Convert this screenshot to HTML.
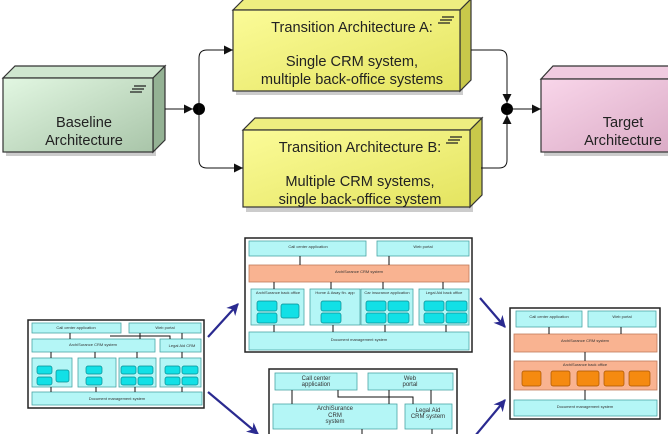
<!DOCTYPE html>
<html><head><meta charset="utf-8"><style>
html,body{margin:0;padding:0;background:#fff;}
svg{display:block;font-family:"Liberation Sans",sans-serif;}
.c{fill:#b4f6f6;stroke:#4aa6a6;stroke-width:.8}
.o{fill:#f9b391;stroke:#c07a5a;stroke-width:.8}
.i{fill:#12e0e6;stroke:#0a8a90;stroke-width:.7}
.io{fill:#f58a10;stroke:#a85400;stroke-width:.7}
.f{fill:#fff;stroke:#222;stroke-width:1.5}
.l{stroke:#111;stroke-width:1;fill:none}
.t{font-size:4px;fill:#333;text-anchor:middle}
.big{font-size:14.6px;fill:#222;text-anchor:middle}
</style></head><body>
<svg width="668" height="434" viewBox="0 0 668 434" xmlns="http://www.w3.org/2000/svg">
<defs>
<linearGradient id="gg" x1="0" y1="0" x2="1" y2="1"><stop offset="0" stop-color="#e2f7e2"/><stop offset="1" stop-color="#a9c5a9"/></linearGradient>
<linearGradient id="gy" x1="0" y1="0" x2="1" y2="1"><stop offset="0" stop-color="#fbfb98"/><stop offset="1" stop-color="#e4e460"/></linearGradient>
<linearGradient id="gp" x1="0" y1="0" x2="1" y2="1"><stop offset="0" stop-color="#f9d6ea"/><stop offset="1" stop-color="#d9a9c4"/></linearGradient>
<marker id="ah" viewBox="0 0 10 10" refX="10" refY="5" markerWidth="9" markerHeight="9" markerUnits="userSpaceOnUse" orient="auto"><path d="M0,0 L10,5 L0,10z" fill="#111"/></marker>
<marker id="bh" viewBox="0 0 10 10" refX="9" refY="5" markerWidth="12" markerHeight="12" markerUnits="userSpaceOnUse" orient="auto"><path d="M0,0 L10,5 L0,10 L3,5z" fill="#2a2a90"/></marker>
</defs>

<g>
<rect x="6" y="82" width="150" height="74" fill="#999" opacity=".5"/>
<path d="M3,78 L15,66 L165,66 L153,78z" fill="#cfe6cf" stroke="#333" stroke-width="1.2"/>
<path d="M153,78 L165,66 L165,140 L153,152z" fill="#94b294" stroke="#333" stroke-width="1.2"/>
<rect x="3" y="78" width="150" height="74" fill="url(#gg)" stroke="#333" stroke-width="1.2"/>
<path d="M134,86h12M132,89h12M130,92h12" stroke="#222" stroke-width="1.3"/>
<text class="big" x="84" y="127">Baseline</text>
<text class="big" x="84" y="145">Architecture</text>
</g>
<g>
<rect x="236" y="14" width="227" height="81" fill="#999" opacity=".5"/>
<path d="M233,10 L244,-1 L471,-1 L460,10z" fill="#eeee80" stroke="#333" stroke-width="1.2"/>
<path d="M460,10 L471,-1 L471,80 L460,91z" fill="#c8c84a" stroke="#333" stroke-width="1.2"/>
<rect x="233" y="10" width="227" height="81" fill="url(#gy)" stroke="#333" stroke-width="1.2"/>
<path d="M442,17h12M440,20h12M438,23h12" stroke="#222" stroke-width="1.3"/>
<text class="big" x="352" y="32">Transition Architecture A:</text>
<text class="big" x="352" y="66">Single CRM system,</text>
<text class="big" x="352" y="84">multiple back-office systems</text>
</g>
<g>
<rect x="246" y="134" width="227" height="78" fill="#999" opacity=".5"/>
<path d="M243,130 L255,118 L482,118 L470,130z" fill="#eeee80" stroke="#333" stroke-width="1.2"/>
<path d="M470,130 L482,118 L482,195 L470,207z" fill="#c8c84a" stroke="#333" stroke-width="1.2"/>
<rect x="243" y="130" width="227" height="77" fill="url(#gy)" stroke="#333" stroke-width="1.2"/>
<path d="M450,137h12M448,140h12M446,143h12" stroke="#222" stroke-width="1.3"/>
<text class="big" x="360" y="152">Transition Architecture B:</text>
<text class="big" x="360" y="186">Multiple CRM systems,</text>
<text class="big" x="360" y="204">single back-office system</text>
</g>
<g>
<rect x="544" y="82" width="130" height="74" fill="#999" opacity=".5"/>
<path d="M541,79 L553,66 L680,66 L668,79z" fill="#f0cbe0" stroke="#333" stroke-width="1.2"/>
<rect x="541" y="79" width="140" height="73" fill="url(#gp)" stroke="#333" stroke-width="1.2"/>
<text class="big" x="623" y="127">Target</text>
<text class="big" x="623" y="145">Architecture</text>
</g>

<line class="l" x1="165" y1="109" x2="193" y2="109" marker-end="url(#ah)"/>
<circle cx="199" cy="109" r="6" fill="#000"/>
<path class="l" d="M199,109 V58 Q199,50 207,50 H233" marker-end="url(#ah)"/>
<path class="l" d="M199,109 V160 Q199,168 207,168 H243" marker-end="url(#ah)"/>
<path class="l" d="M471,50 H499 Q507,50 507,58 V103" marker-end="url(#ah)"/>
<path class="l" d="M481,168 H499 Q507,168 507,160 V115" marker-end="url(#ah)"/>
<circle cx="507" cy="109" r="6" fill="#000"/>
<line class="l" x1="507" y1="109" x2="541" y2="109" marker-end="url(#ah)"/>

<g stroke="#2a2a90" stroke-width="2.2">
<line x1="208" y1="337" x2="238" y2="304" marker-end="url(#bh)"/>
<line x1="208" y1="392" x2="258" y2="434" marker-end="url(#bh)"/>
<line x1="480" y1="298" x2="505" y2="327" marker-end="url(#bh)"/>
<line x1="475" y1="436" x2="505" y2="400" marker-end="url(#bh)"/>
</g>

<g>
<rect class="f" x="28" y="320" width="176" height="88"/>
<rect class="c" x="32" y="323" width="89" height="10"/><text class="t" x="76" y="329">Call center application</text>
<rect class="c" x="129" y="323" width="72" height="10"/><text class="t" x="165" y="329">Web portal</text>
<rect class="c" x="32" y="339" width="123" height="13"/><text class="t" x="93" y="346">ArchiSurance CRM system</text>
<rect class="c" x="160" y="339" width="41" height="13"/><text class="t" x="182" y="347">Legal Aid CRM</text>
<rect class="c" x="32" y="358" width="40" height="29"/><rect class="c" x="78" y="358" width="38" height="29"/><rect class="c" x="119" y="358" width="37" height="29"/><rect class="c" x="160" y="358" width="41" height="29"/>
<g class="i">
<rect x="37" y="366" width="15" height="8" rx="2"/><rect x="37" y="377" width="15" height="8" rx="2"/><rect x="56" y="370" width="13" height="12" rx="2"/>
<rect x="86" y="366" width="16" height="8" rx="2"/><rect x="86" y="377" width="16" height="8" rx="2"/>
<rect x="121" y="366" width="15" height="8" rx="2"/><rect x="138" y="366" width="15" height="8" rx="2"/><rect x="121" y="377" width="15" height="8" rx="2"/><rect x="138" y="377" width="15" height="8" rx="2"/>
<rect x="165" y="366" width="15" height="8" rx="2"/><rect x="182" y="366" width="16" height="8" rx="2"/><rect x="165" y="377" width="15" height="8" rx="2"/><rect x="182" y="377" width="16" height="8" rx="2"/>
</g>
<rect class="c" x="32" y="392" width="170" height="13"/><text class="t" x="117" y="400">Document management system</text>
<path class="l" d="M70,333v6M140,333v6M110,336h60v3M182,333v6M51,352v6M95,352v6M137,352v6M182,352v6M51,387v5M96,387v5M135,387v5M182,387v5" stroke-width=".8"/>
</g>

<g>
<rect class="f" x="245" y="238" width="227" height="114"/>
<rect class="c" x="249" y="241" width="117" height="15"/><text class="t" x="308" y="248">Call center application</text>
<rect class="c" x="377" y="241" width="92" height="15"/><text class="t" x="423" y="248">Web portal</text>
<rect class="o" x="249" y="265" width="220" height="17"/><text class="t" x="359" y="273">ArchiSurance CRM system</text>
<rect class="c" x="251" y="289" width="53" height="36"/><rect class="c" x="310" y="289" width="50" height="36"/><rect class="c" x="361" y="289" width="52" height="36"/><rect class="c" x="419" y="289" width="50" height="36"/>
<text class="t" x="278" y="294">ArchiSurance back office</text><text class="t" x="335" y="294">Home &amp; Away fin. app</text><text class="t" x="387" y="294">Car insurance application</text><text class="t" x="444" y="294">Legal Aid back office</text>
<g class="i">
<rect x="257" y="301" width="20" height="10" rx="2"/><rect x="257" y="313" width="20" height="10" rx="2"/><rect x="281" y="304" width="18" height="14" rx="2"/>
<rect x="321" y="301" width="20" height="10" rx="2"/><rect x="321" y="313" width="20" height="10" rx="2"/>
<rect x="366" y="301" width="20" height="10" rx="2"/><rect x="388" y="301" width="21" height="10" rx="2"/><rect x="366" y="313" width="20" height="10" rx="2"/><rect x="388" y="313" width="21" height="10" rx="2"/>
<rect x="424" y="301" width="20" height="10" rx="2"/><rect x="446" y="301" width="21" height="10" rx="2"/><rect x="424" y="313" width="20" height="10" rx="2"/><rect x="446" y="313" width="21" height="10" rx="2"/>
</g>
<rect class="c" x="249" y="332" width="220" height="18"/><text class="t" x="359" y="341">Document management system</text>
<path class="l" d="M300,256v9M389,256v9M274,282v7M331,282v7M383,282v7M443,282v7M274,325v7M333,325v7M385,325v7M446,325v7" stroke-width=".9"/>
</g>

<g>
<rect class="f" x="269" y="369" width="188" height="70"/>
<rect class="c" x="275" y="373" width="82" height="17"/><text class="t" x="316" y="380" style="font-size:6px">Call center</text><text class="t" x="316" y="386" style="font-size:6px">application</text>
<rect class="c" x="368" y="373" width="85" height="17"/><text class="t" x="410" y="380" style="font-size:6px">Web</text><text class="t" x="410" y="386" style="font-size:6px">portal</text>
<rect class="c" x="273" y="404" width="124" height="25"/><text class="t" x="335" y="410" style="font-size:6px">ArchiSurance</text><text class="t" x="335" y="417" style="font-size:6px">CRM</text><text class="t" x="335" y="423" style="font-size:6px">system</text>
<rect class="c" x="405" y="404" width="47" height="25"/><text class="t" x="428" y="412" style="font-size:6px">Legal Aid</text><text class="t" x="428" y="418" style="font-size:6px">CRM system</text>
<path class="l" d="M292,390v14M389,390v14M338,390v7h75v7M431,390v14M362,429v8M432,429v8" stroke-width="1"/>
</g>

<g>
<rect class="f" x="510" y="308" width="150" height="111"/>
<rect class="c" x="516" y="311" width="66" height="16"/><text class="t" x="549" y="318">Call center application</text>
<rect class="c" x="588" y="311" width="68" height="16"/><text class="t" x="622" y="318">Web portal</text>
<rect class="o" x="514" y="334" width="143" height="18"/><text class="t" x="585" y="342">ArchiSurance CRM system</text>
<rect class="o" x="514" y="361" width="143" height="29"/><text class="t" x="585" y="366">ArchiSurance back office</text>
<g class="io">
<rect x="522" y="371" width="19" height="15" rx="2"/><rect x="551" y="371" width="19" height="15" rx="2"/><rect x="577" y="371" width="22" height="15" rx="2"/><rect x="604" y="371" width="20" height="15" rx="2"/><rect x="629" y="371" width="21" height="15" rx="2"/>
</g>
<rect class="c" x="514" y="400" width="143" height="16"/><text class="t" x="585" y="408">Document management system</text>
<path class="l" d="M549,327v7M621,327v7M585,352v9M585,390v10" stroke-width=".9"/>
</g>
</svg>
</body></html>
